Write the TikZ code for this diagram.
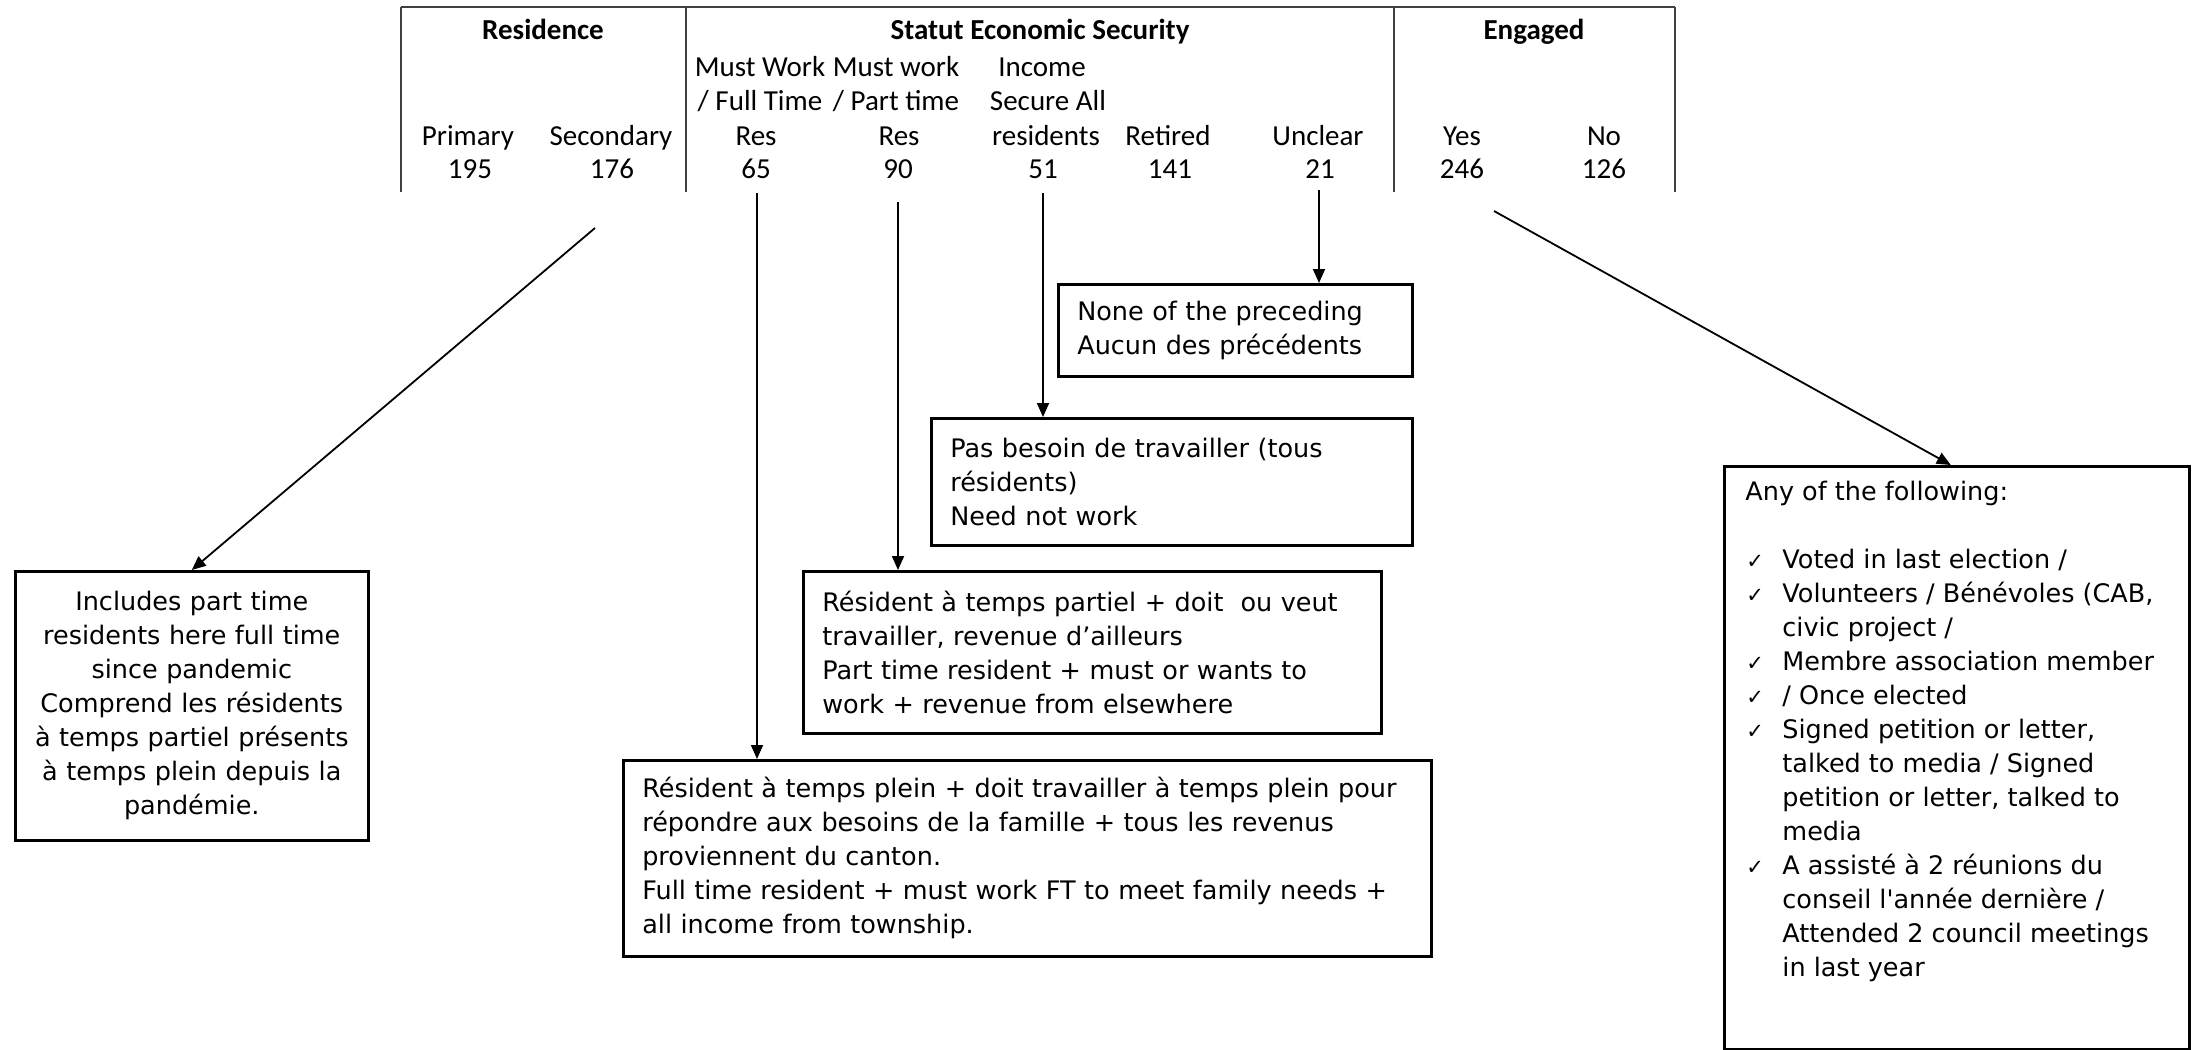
\documentclass[tikz,border=0pt]{standalone}
\usepackage{fontspec}
\usetikzlibrary{arrows.meta}
\newfontfamily\boxfont{DejaVu Sans}
\newfontfamily\tabfont{Carlito}
\newcommand\boxtxt{\boxfont\fontsize{12.75}{17}\selectfont}
\newcommand\tabtxt{\tabfont\fontsize{14.5}{17}\selectfont}
\newcommand\ck{\makebox[18.5pt][l]{\hspace{0.5pt}{\fontsize{10.5}{10.5}\selectfont ✓}}}
\newcommand\listind{\hspace*{18.5pt}}
\begin{document}
\begin{tikzpicture}[x=0.5pt,y=-0.5pt,
  box/.style={draw, line width=1.3pt, anchor=north west, inner xsep=9.5pt, inner ysep=0pt, align=left, font=\boxtxt},
  conn/.style={line width=0.9pt, -{Triangle[length=7pt,width=6pt]}},
  tabline/.style={line width=0.6pt, black!75},
  tab/.style={anchor=base, inner sep=0pt, font=\tabtxt},
  tabh/.style={anchor=base, inner sep=0pt, font=\tabtxt\bfseries}]
\useasboundingbox (0,0) rectangle (2197,1050);

% ---- table lines
\draw[tabline] (401,7) -- (1675,7);
\draw[tabline] (401,7) -- (401,192);
\draw[tabline] (686,7) -- (686,192);
\draw[tabline] (1394,7) -- (1394,192);
\draw[tabline] (1675,7) -- (1675,192);

% ---- headers
\node[tabh] (hres) at (543,39) {Residence};
\node[tabh] (hstat) at (1040,39) {Statut Economic Security};
\node[tabh] (heng) at (1534,39) {Engaged};

% ---- column labels
\node[tab] (mw1) at (760,76) {Must Work};
\node[tab] (mw2) at (896,76) {Must work};
\node[tab] (inc1) at (1042,76) {Income};
\node[tab] (ft1) at (760,110) {/ Full Time};
\node[tab] (pt1) at (896,110) {/ Part time};
\node[tab] (inc2) at (1048,110) {Secure All};
\node[tab] (cprim) at (468,145) {Primary};
\node[tab] (csec) at (611,145) {Secondary};
\node[tab] (cres1) at (756,145) {Res};
\node[tab] (cres2) at (899,145) {Res};
\node[tab] (cinc) at (1046,145) {residents};
\node[tab] (cret) at (1168,145) {Retired};
\node[tab] (cunc) at (1318,145) {Unclear};
\node[tab] (cyes) at (1462,145) {Yes};
\node[tab] (cno) at (1604,145) {No};

% ---- numbers
\node[tab] (n195) at (470,178) {195};
\node[tab] (n176) at (612,178) {176};
\node[tab] (n65) at (756,178) {65};
\node[tab] (n90) at (898,178) {90};
\node[tab] (n51) at (1043,178) {51};
\node[tab] (n141) at (1170,178) {141};
\node[tab] (n21) at (1320,178) {21};
\node[tab] (n246) at (1462,178) {246};
\node[tab] (n126) at (1604,178) {126};

% ---- boxes
\node[box, align=center, inner xsep=5pt, text width=166.5pt, minimum height=134.5pt] (b1) at (14,570)
  {Includes part time\\residents here full time\\since pandemic\\Comprend les résidents\\à temps partiel présents\\à temps plein depuis la\\pandémie.};

\node[box, text width=158pt, minimum height=46pt] (b2) at (1057,283)
  {\mbox{None of the preceding}\\\mbox{Aucun des précédents}};

\node[box, text width=221.5pt, minimum height=63.5pt] (b3) at (930,417)
  {\mbox{Pas besoin de travailler (tous}\\\mbox{résidents)}\\\mbox{Need not work}};

\node[box, text width=270pt, minimum height=81pt] (b4) at (802,570)
  {\mbox{Résident à temps partiel + doit\ \ ou veut}\\\mbox{travailler, revenue d’ailleurs}\\\mbox{Part time resident + must or wants to}\\\mbox{work + revenue from elsewhere}};

\node[box, text width=385pt, minimum height=98pt] (b5) at (622,759)
  {\mbox{Résident à temps plein + doit travailler à temps plein pour}\\\mbox{répondre aux besoins de la famille + tous les revenus}\\\mbox{proviennent du canton.}\\\mbox{Full time resident + must work FT to meet family needs +}\\\mbox{all income from township.}};

\node[draw, line width=1.3pt, anchor=north west, inner sep=0pt, minimum width=232.5pt, minimum height=291.5pt] (b6) at (1723,465) {};
\node[anchor=north west, inner sep=0pt, align=left, font=\boxtxt] (b6t) at (1745,481)
  {Any of the following:\\[17pt]
   \ck Voted in last election /\\
   \ck Volunteers / Bénévoles (CAB,\\
   \listind civic project /\\
   \ck Membre association member\\
   \ck / Once elected\\
   \ck Signed petition or letter,\\
   \listind talked to media / Signed\\
   \listind petition or letter, talked to\\
   \listind media\\
   \ck A assisté à 2 réunions du\\
   \listind conseil l\textquotesingle année dernière /\\
   \listind Attended 2 council meetings\\
   \listind in last year};

% ---- connector start points
\coordinate (s176) at (595,228);
\coordinate (s65) at (757,193);
\coordinate (s90) at (898,202);
\coordinate (s51) at (1043,193);
\coordinate (s21) at (1319,190);
\coordinate (s246) at (1494,211);

% ---- connectors
\draw[conn] (s176) -- (b1.north);
\draw[conn] (s65) -- (s65 |- b5.north);
\draw[conn] (s90) -- (s90 |- b4.north);
\draw[conn] (s51) -- (s51 |- b3.north);
\draw[conn] (s21) -- (s21 |- b2.north);
\draw[conn] (s246) -- ([xshift=-3pt]b6.north);
\end{tikzpicture}
\end{document}
